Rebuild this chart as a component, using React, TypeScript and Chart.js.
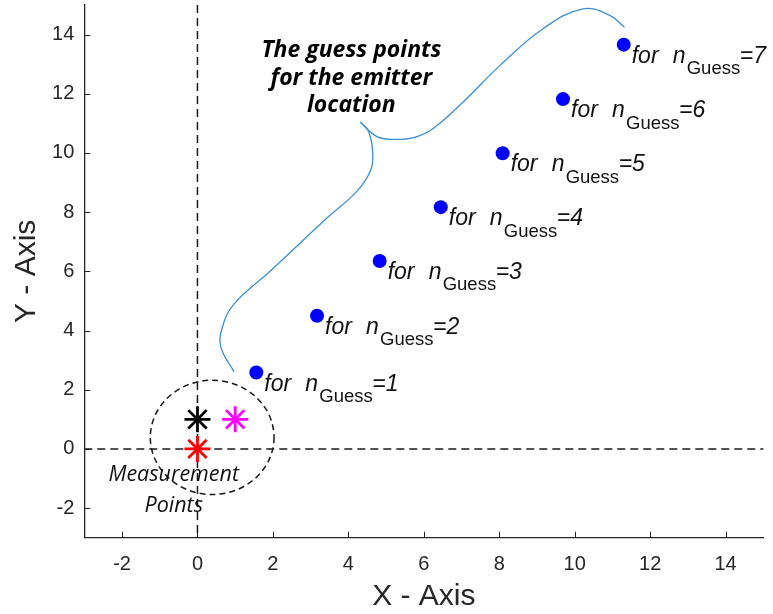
import React, { useEffect, useRef } from "react";
import { Chart, registerables } from "chart.js";

Chart.register(...registerables);

// ---- axis ranges and ticks ----
const X_MIN = -3;
const X_MAX = 15;
const Y_MIN = -3;
const Y_MAX = 15;
const xTicks = [-2, 0, 2, 4, 6, 8, 10, 12, 14];
const yTicks = [-2, 0, 2, 4, 6, 8, 10, 12, 14];

// ---- guess points ----
const guessN = [1, 2, 3, 4, 5, 6, 7];
const guessX = [1.56, 3.17, 4.83, 6.45, 8.09, 9.69, 11.3];
const guessY = [2.58, 4.5, 6.35, 8.17, 9.99, 11.82, 13.66];

// ---- measurement points ----
const measX = [0, 0, 1];
const measY = [1, 0, 1];
const measColors = ["#000000", "#ff0000", "#ff00ff"];

// ---- curly brace annotation (data coords) ----
const braceLowerX = [0.97, 0.62, 0.66, 0.97, 1.94, 3.39, 4.23, 4.58, 4.65, 4.54, 4.32];
const braceLowerY = [2.6, 3.44, 4.11, 4.9, 6.02, 7.75, 8.71, 9.38, 9.94, 10.72, 11.04];
const braceUpperX = [4.32, 4.76, 5.2, 5.73, 6.25, 7.05, 8.02, 9.16, 10.22, 10.93, 11.32];
const braceUpperY = [11.04, 10.55, 10.46, 10.52, 10.83, 11.73, 12.96, 14.2, 14.87, 14.65, 14.25];

// ---- measurement region (dashed ellipse) ----
const regionCenter = [0.39, 0.39];
const regionRadius = [1.64, 1.93];

// ---- text annotations ----
const calloutLines = ["The guess points", "for the emitter", "location"];
const calloutAnchor = [4.08, 13.24];
const measLines = ["Measurement", "Points"];
const measAnchor = [-0.63, -1.07];
const xTitle = "X - Axis";
const yTitle = "Y - Axis";

const SANS = '"Liberation Sans", Arial, Helvetica, sans-serif';
const AXIS_COLOR = "#262626";

const overlayPlugin = {
  id: "overlay",
  beforeDatasetsDraw(chart: any) {
    const { ctx, chartArea, scales } = chart;
    const xs = scales.x;
    const ys = scales.y;
    ctx.save();
    // dashed reference lines at x=0 and y=0
    ctx.strokeStyle = "#1a1a1a";
    ctx.lineWidth = 1.5;
    ctx.setLineDash([8, 5]);
    const x0 = xs.getPixelForValue(0);
    const y0 = ys.getPixelForValue(0);
    ctx.beginPath();
    ctx.moveTo(x0, chartArea.top);
    ctx.lineTo(x0, chartArea.bottom);
    ctx.moveTo(chartArea.left, y0);
    ctx.lineTo(chartArea.right, y0);
    ctx.stroke();
    // dashed ellipse
    const cx = xs.getPixelForValue(regionCenter[0]);
    const cy = ys.getPixelForValue(regionCenter[1]);
    const rx = Math.abs(xs.getPixelForValue(regionCenter[0] + regionRadius[0]) - cx);
    const ry = Math.abs(ys.getPixelForValue(regionCenter[1] + regionRadius[1]) - cy);
    ctx.setLineDash([6, 4]);
    ctx.lineWidth = 1.5;
    ctx.beginPath();
    ctx.ellipse(cx, cy, rx, ry, 0, 0, Math.PI * 2);
    ctx.stroke();
    ctx.restore();
  },
  afterDatasetsDraw(chart: any) {
    const { ctx, chartArea, scales } = chart;
    const xs = scales.x;
    const ys = scales.y;
    ctx.save();
    // inward tick marks
    ctx.strokeStyle = AXIS_COLOR;
    ctx.lineWidth = 1;
    ctx.setLineDash([]);
    ctx.beginPath();
    xTicks.forEach((v) => {
      const px = Math.round(xs.getPixelForValue(v)) + 0.5;
      ctx.moveTo(px, chartArea.bottom);
      ctx.lineTo(px, chartArea.bottom - 6);
    });
    yTicks.forEach((v) => {
      const py = Math.round(ys.getPixelForValue(v)) + 0.5;
      ctx.moveTo(chartArea.left, py);
      ctx.lineTo(chartArea.left + 6, py);
    });
    ctx.stroke();

    // guess labels: "for  n_Guess=k"
    ctx.fillStyle = "#111111";
    ctx.textBaseline = "alphabetic";
    ctx.textAlign = "left";
    guessN.forEach((n, i) => {
      const px = xs.getPixelForValue(guessX[i]);
      const py = ys.getPixelForValue(guessY[i]);
      ctx.font = `italic 23px ${SANS}`;
      ctx.fillText("for", px + 8, py + 18);
      ctx.fillText("n", px + 49, py + 18);
      ctx.fillText("=" + n, px + 116, py + 18);
      ctx.font = `18.5px ${SANS}`;
      ctx.fillText("Guess", px + 63, py + 29.5);
    });

    // callout text
    ctx.textAlign = "center";
    ctx.fillStyle = "#000000";
    ctx.font = 'italic bold 23px "Open Sans", sans-serif';
    const ax = xs.getPixelForValue(calloutAnchor[0]);
    const ay = ys.getPixelForValue(calloutAnchor[1]);
    calloutLines.forEach((t, i) => ctx.fillText(t, ax, ay + i * 27.5));

    // measurement text
    ctx.font = 'italic 21.5px "Open Sans", sans-serif';
    ctx.fillStyle = "#111111";
    const mx = xs.getPixelForValue(measAnchor[0]);
    const my = ys.getPixelForValue(measAnchor[1]);
    measLines.forEach((t, i) => ctx.fillText(t, mx, my + i * 31));
    ctx.restore();
  },
};

export default function App() {
  const canvasRef = useRef<HTMLCanvasElement | null>(null);

  useEffect(() => {
    const canvas = canvasRef.current;
    if (!canvas) return;
    const toPts = (xa: number[], ya: number[]) => xa.map((x, i) => ({ x, y: ya[i] }));

    const chart = new Chart(canvas, {
      type: "scatter",
      data: {
        datasets: [
          {
            label: "Measurement points",
            data: toPts(measX, measY),
            pointStyle: "star",
            pointRadius: 13,
            pointBorderWidth: 2.8,
            pointBorderColor: measColors,
            pointBackgroundColor: measColors,
            clip: false as any,
          },
          {
            label: "Guess points",
            data: toPts(guessX, guessY),
            pointStyle: "circle",
            pointRadius: 7,
            pointBorderWidth: 0,
            pointBackgroundColor: "#0000ff",
            pointBorderColor: "#0000ff",
            clip: false as any,
          },
          {
            label: "brace lower",
            data: toPts(braceLowerX, braceLowerY),
            showLine: true,
            tension: 0.4,
            pointRadius: 0,
            borderColor: "#3d8fd1",
            borderWidth: 1.3,
            clip: false as any,
          },
          {
            label: "brace upper",
            data: toPts(braceUpperX, braceUpperY),
            showLine: true,
            tension: 0.4,
            pointRadius: 0,
            borderColor: "#3d8fd1",
            borderWidth: 1.3,
            clip: false as any,
          },
        ],
      },
      options: {
        animation: false,
        responsive: false,
        events: [],
        layout: { autoPadding: false, padding: { top: 5, right: 9.7, left: 0, bottom: 0 } },
        plugins: { legend: { display: false }, tooltip: { enabled: false } },
        scales: {
          x: {
            type: "linear",
            position: "bottom",
            min: X_MIN,
            max: X_MAX,
            afterBuildTicks: (s: any) => {
              s.ticks = xTicks.map((v) => ({ value: v }));
            },
            afterFit: (s: any) => {
              s.height = 76.3;
              s.paddingLeft = 0;
              s.paddingRight = 0;
              s.paddingTop = 0;
              s.paddingBottom = 0;
            },
            grid: { display: false, drawTicks: false },
            border: { display: true, color: AXIS_COLOR, width: 1.3 },
            ticks: {
              padding: 15,
              color: AXIS_COLOR,
              font: { family: SANS, size: 20 },
              maxRotation: 0,
            },
            title: {
              display: true,
              text: xTitle,
              color: AXIS_COLOR,
              font: { family: SANS, size: 30 },
              padding: { top: 0, bottom: -1 },
            },
          },
          y: {
            type: "linear",
            position: "left",
            min: Y_MIN,
            max: Y_MAX,
            afterBuildTicks: (s: any) => {
              s.ticks = yTicks.map((v) => ({ value: v }));
            },
            afterFit: (s: any) => {
              s.width = 84.3;
              s.paddingLeft = 0;
              s.paddingRight = 0;
              s.paddingTop = 0;
              s.paddingBottom = 0;
            },
            grid: { display: false, drawTicks: false },
            border: { display: true, color: AXIS_COLOR, width: 1.3 },
            ticks: {
              padding: 10,
              color: AXIS_COLOR,
              font: { family: SANS, size: 20 },
            },
            title: {
              display: true,
              text: yTitle,
              color: AXIS_COLOR,
              font: { family: SANS, size: 30 },
              padding: { top: 9, bottom: 0 },
            },
          },
        },
      },
      plugins: [overlayPlugin],
    } as any);

    return () => chart.destroy();
  }, []);

  return (
    <div style={{ position: "fixed", left: 0, top: 0, width: 773, height: 614, background: "#ffffff" }}>
      <canvas ref={canvasRef} width={773} height={614} style={{ display: "block" }} />
    </div>
  );
}
